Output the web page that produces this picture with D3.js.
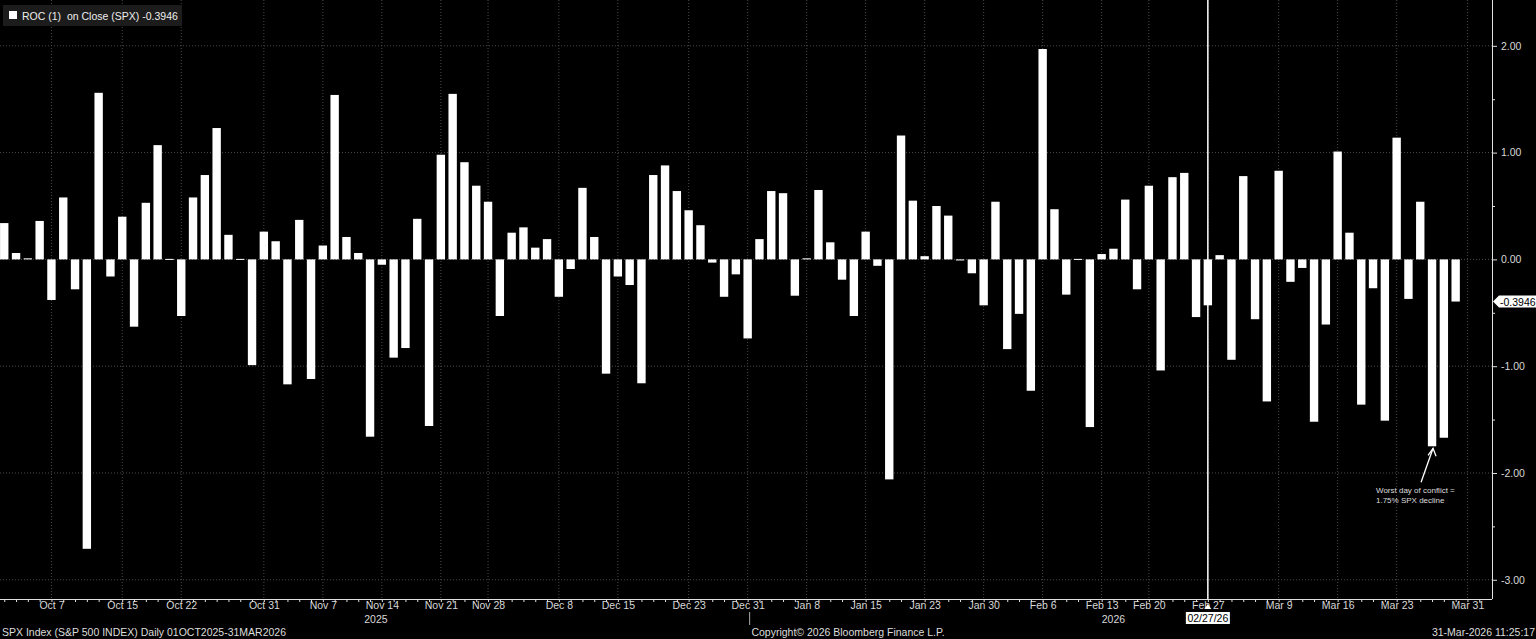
<!DOCTYPE html>
<html>
<head>
<meta charset="utf-8">
<title>SPX ROC (1)</title>
<script src="https://d3js.org/d3.v7.min.js"></script>
<style>
  html, body { margin: 0; padding: 0; background: #000; }
  svg { display: block; font-family: "Liberation Sans", Arial, sans-serif; }
  .grid line { stroke: #4a4a4a; stroke-dasharray: 1,2; }
  .axis text { fill: #d8d8d8; font-size: 10.5px; }
  .axis path, .axis line { stroke: #e0e0e0; }
</style>
</head>
<body>
<div class="chart"></div>
<script>
// trading days, 01OCT2025 - 31MAR2026 (last slot has no bar yet)
var dates = [
  "Oct 1","Oct 2","Oct 3","Oct 6","Oct 7","Oct 8","Oct 9","Oct 10","Oct 13","Oct 14",
  "Oct 15","Oct 16","Oct 17","Oct 20","Oct 21","Oct 22","Oct 23","Oct 24","Oct 27","Oct 28",
  "Oct 29","Oct 30","Oct 31","Nov 3","Nov 4","Nov 5","Nov 6","Nov 7","Nov 10","Nov 11",
  "Nov 12","Nov 13","Nov 14","Nov 17","Nov 18","Nov 19","Nov 20","Nov 21","Nov 24","Nov 25",
  "Nov 26","Nov 28","Dec 1","Dec 2","Dec 3","Dec 4","Dec 5","Dec 8","Dec 9","Dec 10",
  "Dec 11","Dec 12","Dec 15","Dec 16","Dec 17","Dec 18","Dec 19","Dec 22","Dec 23","Dec 24",
  "Dec 26","Dec 29","Dec 30","Dec 31","Jan 2","Jan 5","Jan 6","Jan 7","Jan 8","Jan 9",
  "Jan 12","Jan 13","Jan 14","Jan 15","Jan 16","Jan 20","Jan 21","Jan 22","Jan 23","Jan 26",
  "Jan 27","Jan 28","Jan 29","Jan 30","Feb 2","Feb 3","Feb 4","Feb 5","Feb 6","Feb 9",
  "Feb 10","Feb 11","Feb 12","Feb 13","Feb 17","Feb 18","Feb 19","Feb 20","Feb 23","Feb 24",
  "Feb 25","Feb 26","Feb 27","Mar 2","Mar 3","Mar 4","Mar 5","Mar 6","Mar 9","Mar 10",
  "Mar 11","Mar 12","Mar 13","Mar 16","Mar 17","Mar 18","Mar 19","Mar 20","Mar 23","Mar 24",
  "Mar 25","Mar 26","Mar 27","Mar 30","Mar 31"
];

// ROC (1) on close, % per day
var roc = [
  0.34, 0.06, 0.01, 0.36, -0.38, 0.58, -0.28, -2.71, 1.56, -0.16,
  0.40, -0.63, 0.53, 1.07, 0.00, -0.53, 0.58, 0.79, 1.23, 0.23,
  0.00, -0.99, 0.26, 0.17, -1.17, 0.37, -1.12, 0.13, 1.54, 0.21,
  0.06, -1.66, -0.05, -0.92, -0.83, 0.38, -1.56, 0.98, 1.55, 0.91,
  0.69, 0.54, -0.53, 0.25, 0.30, 0.11, 0.19, -0.35, -0.09, 0.67,
  0.21, -1.07, -0.16, -0.24, -1.16, 0.79, 0.88, 0.64, 0.46, 0.32,
  -0.03, -0.35, -0.14, -0.74, 0.19, 0.64, 0.62, -0.34, 0.01, 0.65,
  0.16, -0.19, -0.53, 0.26, -0.06, -2.06, 1.16, 0.55, 0.03, 0.50,
  0.41, -0.01, -0.13, -0.43, 0.54, -0.84, -0.51, -1.23, 1.97, 0.47,
  -0.33, 0.00, -1.57, 0.05, 0.10, 0.56, -0.28, 0.69, -1.04, 0.77,
  0.81, -0.54, -0.43, 0.04, -0.94, 0.78, -0.56, -1.33, 0.83, -0.21,
  -0.08, -1.52, -0.61, 1.01, 0.25, -1.36, -0.27, -1.51, 1.14, -0.37,
  0.54, -1.75, -1.67, -0.3946
];

var tickDates = ["Oct 7","Oct 15","Oct 22","Oct 31","Nov 7","Nov 14","Nov 21","Nov 28",
  "Dec 8","Dec 15","Dec 23","Dec 31","Jan 8","Jan 15","Jan 23","Jan 30",
  "Feb 6","Feb 13","Feb 20","Feb 27","Mar 9","Mar 16","Mar 23","Mar 31"];
var yTicks = [2, 1, 0, -1, -2, -3];
var yMinor = [1.5, 0.5, -0.5, -1.5, -2.5];
var years = [{ label: "2025", from: "Oct 1", to: "Dec 31" }, { label: "2026", from: "Jan 2", to: "Mar 31" }];
var marker = "Feb 27";
var lastValue = -0.3946;

var width = 1536, height = 639,
    plotRight = 1492, plotBottom = 599;

var svg = d3.select(".chart")
  .append("svg")
  .attr("width", width)
  .attr("height", height);

var x = d3.scaleLinear()
  .domain([-0.36, 126.08])
  .range([0, plotRight]);

var y = d3.scaleLinear()
  .domain([-3.18, 2.429])
  .range([plotBottom, 0]);

var idx = function (d) { return dates.indexOf(d); };
var step = x(1) - x(0);
var bw = step * 0.71;

// grid
var grid = svg.append("g").attr("class", "grid");
grid.selectAll(".h")
  .data(yTicks)
  .enter().append("line")
  .attr("x1", 0).attr("x2", plotRight)
  .attr("y1", function (d) { return y(d); })
  .attr("y2", function (d) { return y(d); });
grid.selectAll(".v")
  .data(tickDates)
  .enter().append("line")
  .attr("x1", function (d) { return x(idx(d)); })
  .attr("x2", function (d) { return x(idx(d)); })
  .attr("y1", 0).attr("y2", plotBottom);

// bars
svg.append("g")
  .selectAll("rect")
  .data(roc)
  .enter().append("rect")
  .attr("fill", "#fff")
  .attr("x", function (d, i) { return x(i) - bw / 2; })
  .attr("y", function (d) { return d >= 0 ? y(d) - (d === 0 ? 0.5 : 0) : y(0); })
  .attr("width", bw)
  .attr("height", function (d) { return Math.max(1, Math.abs(y(d) - y(0))); });

// x axis
var xAxis = d3.axisBottom(x)
  .tickValues(tickDates.map(idx))
  .tickSize(0)
  .tickPadding(3)
  .tickFormat(function (i) { return dates[i]; });
var gx = svg.append("g")
  .attr("class", "axis")
  .attr("transform", "translate(0," + plotBottom + ")")
  .call(xAxis);
gx.select(".domain").attr("d", "M0,0.5H" + plotRight);

// one small tick per trading day
svg.append("g")
  .attr("class", "axis")
  .attr("transform", "translate(0," + plotBottom + ")")
  .call(d3.axisBottom(x).tickValues(d3.range(dates.length + 1)).tickSize(3).tickFormat(""))
  .select(".domain").remove();

// years
svg.append("g").selectAll("text")
  .data(years)
  .enter().append("text")
  .attr("x", function (d) { return (x(idx(d.from)) + x(idx(d.to))) / 2; })
  .attr("y", 623)
  .attr("text-anchor", "middle")
  .attr("fill", "#d8d8d8")
  .style("font-size", "10.5px")
  .text(function (d) { return d.label; });
svg.append("line")
  .attr("x1", x(idx("Dec 31")) + 2).attr("x2", x(idx("Dec 31")) + 2)
  .attr("y1", 612).attr("y2", 625)
  .attr("stroke", "#aaa");

// right axis
var gy = svg.append("g")
  .attr("class", "axis")
  .attr("transform", "translate(" + plotRight + ",0)")
  .call(d3.axisRight(y).tickValues(yTicks).tickSize(5).tickPadding(4)
    .tickFormat(function (d) { return d.toFixed(2); }));
gy.select(".domain").attr("d", "M0.5,0V" + plotBottom);
svg.append("g")
  .attr("class", "axis")
  .attr("transform", "translate(" + plotRight + ",0)")
  .call(d3.axisRight(y).tickValues(yMinor).tickSize(3).tickFormat(""))
  .select(".domain").remove();

// last value tag
var ly = y(lastValue);
svg.append("path")
  .attr("d", "M" + (plotRight + 1) + "," + ly + "L" + (plotRight + 7) + "," + (ly - 6) +
    "H1536V" + (ly + 6) + "H" + (plotRight + 7) + "Z")
  .attr("fill", "#fff");
svg.append("text")
  .attr("x", plotRight + 8).attr("y", ly + 4)
  .attr("fill", "#000")
  .style("font-size", "10.5px")
  .text(lastValue.toFixed(4));

// marker line at Feb 27
var mx = x(idx(marker));
svg.append("line")
  .attr("x1", mx).attr("x2", mx)
  .attr("y1", 0).attr("y2", plotBottom)
  .attr("stroke", "#fff")
  .attr("stroke-width", 1.5);
svg.append("path")
  .attr("d", "M" + mx + "," + (plotBottom + 5) + "l-3.5,5h7z")
  .attr("fill", "#fff");
svg.append("rect")
  .attr("x", mx - 22).attr("y", 612)
  .attr("width", 44).attr("height", 12)
  .attr("fill", "#fff");
svg.append("text")
  .attr("x", mx).attr("y", 622)
  .attr("text-anchor", "middle")
  .attr("fill", "#000")
  .style("font-size", "10.5px")
  .text("02/27/26");

// legend
svg.append("rect")
  .attr("x", 3).attr("y", 5).attr("width", 179).attr("height", 21)
  .attr("fill", "#1c1c1c");
svg.append("rect")
  .attr("x", 9).attr("y", 11).attr("width", 8).attr("height", 8)
  .attr("fill", "#fff");
svg.append("text")
  .attr("x", 22).attr("y", 19.5)
  .attr("fill", "#eee")
  .style("font-size", "10.5px")
  .style("white-space", "pre")
  .text("ROC (1)  on Close (SPX) " + lastValue.toFixed(4));

// annotation
var worst = idx("Mar 26");
var tipX = x(worst) + 1, tipY = y(roc[worst]) + 2;
svg.append("line")
  .attr("x1", tipX - 12).attr("y1", tipY + 34)
  .attr("x2", tipX).attr("y2", tipY)
  .attr("stroke", "#fff").attr("stroke-width", 1.3);
svg.append("path")
  .attr("d", "M" + (tipX - 5) + "," + (tipY + 7) + "L" + tipX + "," + tipY + "L" + (tipX + 3) + "," + (tipY + 8))
  .attr("fill", "none").attr("stroke", "#fff").attr("stroke-width", 1.3);
svg.append("text")
  .attr("x", 1376).attr("y", 492.5)
  .attr("fill", "#ddd")
  .style("font-size", "8px")
  .text("Worst day of conflict =");
svg.append("text")
  .attr("x", 1376).attr("y", 502.5)
  .attr("fill", "#ddd")
  .style("font-size", "8px")
  .text("1.75% SPX decline");

// footer
var foot = svg.append("g")
  .attr("fill", "#ddd")
  .style("font-size", "10.5px");
foot.append("text").attr("x", 2).attr("y", 636)
  .text("SPX Index (S&P 500 INDEX) Daily 01OCT2025-31MAR2026");
foot.append("text").attr("x", 848).attr("y", 636).attr("text-anchor", "middle")
  .text("Copyright\u00a9 2026 Bloomberg Finance L.P.");
foot.append("text").attr("x", 1535).attr("y", 636).attr("text-anchor", "end")
  .text("31-Mar-2026 11:25:17");
</script>
</body>
</html>
